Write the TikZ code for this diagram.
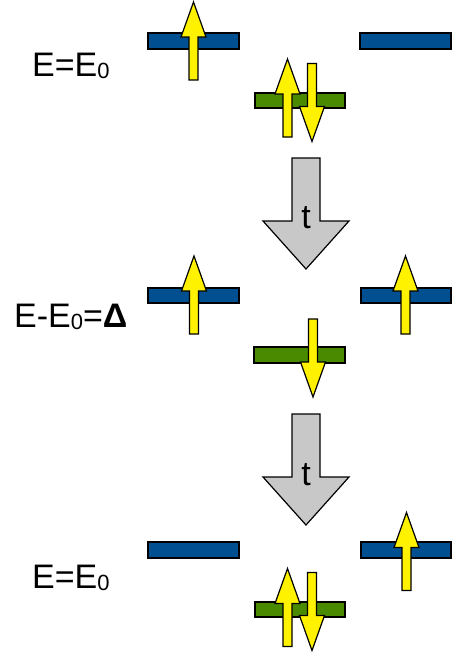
\documentclass[tikz,border=0pt]{standalone}
\usepackage{fontspec}
\setmainfont{Liberation Sans}
\definecolor{orbblue}{RGB}{0,79,145}
\definecolor{orbgreen}{RGB}{74,138,0}
\definecolor{hopgray}{RGB}{200,200,200}
\tikzset{
  orbA/.style={draw=black, line width=1.2pt, fill=orbblue},
  orbB/.style={draw=black, line width=1.2pt, fill=orbgreen},
  spin/.style={draw=black, line width=1.2pt, fill=yellow, line join=miter},
  hop/.style={draw=black, line width=1.2pt, fill=hopgray, line join=miter},
  lbl/.style={inner sep=0pt, font=\fontsize{34}{38}\selectfont},
  spinup/.pic={\draw[spin] (-4.5,39) -- (-4.5,-4) -- (-12.5,-4) -- (0,-39) -- (12.5,-4) -- (4.5,-4) -- (4.5,39) -- cycle;},
  spindown/.pic={\draw[spin] (-4.5,-39) -- (-4.5,4) -- (-12.5,4) -- (0,39) -- (12.5,4) -- (4.5,4) -- (4.5,-39) -- cycle;},
  hoparrow/.pic={\draw[hop] (-14,0) -- (-14,63) -- (-43,63) -- (0,111) -- (43,63) -- (14,63) -- (14,0) -- cycle;}
}
\newcommand{\sub}[1]{\raisebox{-2pt}{\fontsize{22}{24}\selectfont #1}}
\begin{document}
\begin{tikzpicture}[x=1pt, y=-1pt]
  \useasboundingbox (0,0) rectangle (454,656);

  % Initial state
  \node[lbl, anchor=base west] (energyA) at (32,76) {E=E\sub{0}};
  \draw[orbA] (148,33) rectangle (239,49);
  \draw[orbA] (360,33) rectangle (451,49);
  \draw[orbB] (255,93) rectangle (345,108);
  \pic at (193.5,41) {spinup};
  \pic at (287.5,98) {spinup};
  \pic at (312,102.5) {spindown};

  % First hop
  \pic at (306,158) {hoparrow};
  \node[lbl, anchor=base] (hopA) at (306,228) {t};

  % Intermediate state
  \node[lbl, anchor=base west] (energyB) at (14,327) {E-E\sub{0}=\textbf{Δ}};
  \draw[orbA] (148,288) rectangle (239,303);
  \draw[orbA] (361,288) rectangle (451,303);
  \draw[orbB] (254,347) rectangle (345,363);
  \pic at (194,295) {spinup};
  \pic at (405.5,295) {spinup};
  \pic at (313,358) {spindown};

  % Second hop
  \pic at (306,414) {hoparrow};
  \node[lbl, anchor=base] (hopB) at (306,485) {t};

  % Final state
  \node[lbl, anchor=base west] (energyC) at (32,588) {E=E\sub{0}};
  \draw[orbA] (148,542) rectangle (239,558);
  \draw[orbA] (361,542) rectangle (451,558);
  \draw[orbB] (255,602) rectangle (345,617);
  \pic at (406.5,551.5) {spinup};
  \pic at (287.5,607.5) {spinup};
  \pic at (312,611.5) {spindown};
\end{tikzpicture}
\end{document}
